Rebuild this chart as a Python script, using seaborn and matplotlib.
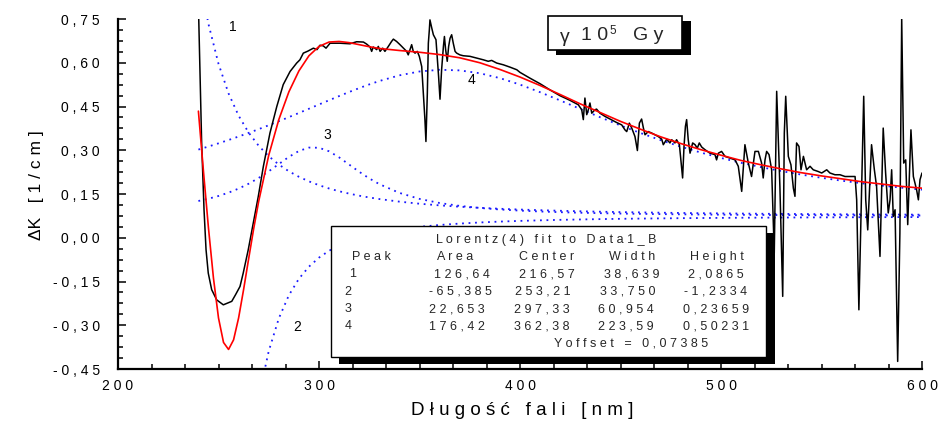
import numpy as np
import pandas as pd
import matplotlib
matplotlib.use("Agg")
import matplotlib.pyplot as plt
import seaborn as sns
from matplotlib.ticker import FixedLocator, AutoMinorLocator
from matplotlib.patches import Rectangle

# ---------------- data ----------------
curve_x = [240, 245, 250, 255, 260, 265, 270, 275, 280, 285, 290, 295, 300, 305,
           310, 315, 320, 325, 330, 340, 350, 360, 370, 380, 390, 400, 410, 420,
           430, 440, 450, 460, 470, 480, 490, 500, 510, 520, 530, 540, 550, 560,
           570, 580, 590, 600]

peak1_y = [0.9184, 0.7330, 0.5963, 0.4948, 0.4186, 0.3603, 0.3152, 0.2795, 0.2510,
           0.2279, 0.2090, 0.1933, 0.1801, 0.1689, 0.1594, 0.1513, 0.1442, 0.1381,
           0.1327, 0.1238, 0.1167, 0.1110, 0.1064, 0.1026, 0.0994, 0.0967, 0.0945,
           0.0925, 0.0908, 0.0893, 0.0880, 0.0869, 0.0859, 0.0850, 0.0842, 0.0835,
           0.0829, 0.0823, 0.0818, 0.0813, 0.0808, 0.0804, 0.0801, 0.0797, 0.0794,
           0.0791]

peak2_y = [-0.6910, -0.9235, -1.1165, -1.1459, -0.9877, -0.7550, -0.5460, -0.3886,
           -0.2766, -0.1973, -0.1406, -0.0991, -0.0682, -0.0446, -0.0263, -0.0118,
           -0.0002, 0.0093, 0.0170, 0.0289, 0.0375, 0.0438, 0.0486, 0.0524, 0.0554,
           0.0578, 0.0597, 0.0614, 0.0627, 0.0639, 0.0649, 0.0657, 0.0664, 0.0671,
           0.0676, 0.0681, 0.0686, 0.0689, 0.0693, 0.0696, 0.0699, 0.0701, 0.0704,
           0.0706, 0.0708, 0.0709]

peak3_y = [0.1260, 0.1338, 0.1432, 0.1546, 0.1685, 0.1852, 0.2050, 0.2278, 0.2526,
           0.2772, 0.2975, 0.3091, 0.3086, 0.2964, 0.2756, 0.2509, 0.2262, 0.2035,
           0.1839, 0.1538, 0.1332, 0.1191, 0.1092, 0.1022, 0.0969, 0.0930, 0.0900,
           0.0876, 0.0857, 0.0842, 0.0829, 0.0819, 0.0810, 0.0803, 0.0796, 0.0791,
           0.0786, 0.0782, 0.0778, 0.0775, 0.0772, 0.0770, 0.0768, 0.0766, 0.0764,
           0.0762]

peak4_y = [0.3023, 0.3128, 0.3237, 0.3351, 0.3470, 0.3595, 0.3723, 0.3857, 0.3994,
           0.4135, 0.4278, 0.4423, 0.4569, 0.4714, 0.4857, 0.4997, 0.5130, 0.5257,
           0.5373, 0.5568, 0.5701, 0.5759, 0.5738, 0.5640, 0.5473, 0.5251, 0.4990,
           0.4707, 0.4416, 0.4128, 0.3850, 0.3589, 0.3346, 0.3123, 0.2920, 0.2736,
           0.2569, 0.2420, 0.2285, 0.2164, 0.2055, 0.1956, 0.1868, 0.1787, 0.1715,
           0.1649]

fit_x = [240, 242.5, 245, 247.5, 250, 252.5, 255, 257.5, 260, 262.5, 265, 267.5,
         270, 275, 280, 285, 290, 295, 300, 305, 310, 315, 320, 325, 330, 340, 350,
         360, 370, 380, 390, 400, 410, 420, 430, 440, 450, 460, 470, 480, 490, 500,
         510, 520, 530, 540, 550, 560, 570, 580, 590, 600]

fit_y = [0.434, 0.229, 0.034, -0.139, -0.275, -0.359, -0.383, -0.350, -0.275, -0.177,
         -0.072, 0.031, 0.125, 0.283, 0.405, 0.500, 0.572, 0.624, 0.656, 0.671, 0.673,
         0.669, 0.662, 0.655, 0.649, 0.642, 0.636, 0.628, 0.617, 0.600, 0.577, 0.551,
         0.522, 0.491, 0.459, 0.429, 0.399, 0.372, 0.346, 0.323, 0.302, 0.283, 0.265,
         0.250, 0.236, 0.223, 0.212, 0.202, 0.192, 0.184, 0.176, 0.170]

data_x = [240.0, 241.6, 242.8, 243.8, 244.9, 246.6, 249.1, 252.4, 256.6, 258.5, 260.7,
          262.3, 264.8, 267.3, 269.8, 272.3, 275.6, 279.0, 282.2, 285.6, 288.9, 290.5,
          292.2, 294.5, 297.2, 299.0, 300.5, 302.1, 303.5,
          305.5, 310.4, 315.4, 318.7, 322.1, 323.7, 325.4, 326.2, 327.0, 328.7, 329.5,
          330.4, 331.7, 332.8, 334.5, 336.1, 337.0, 338.6, 340.3, 342.0, 343.6, 344.4,
          345.3, 346.1, 346.9, 347.8, 348.9, 349.9, 351.1, 351.9, 352.7, 353.2, 353.9,
          354.4, 354.9, 355.2, 356.1, 356.9, 358.2, 358.9, 359.5, 360.2, 361.0, 361.9,
          362.4, 363.0, 363.8, 364.5, 365.2, 366.0, 366.8, 367.7, 368.5, 370.1, 371.8,
          375.1, 378.4, 381.8, 384.2, 385.9, 386.7, 388.4, 391.7, 395.0, 398.4,
          400.0, 405.0, 410.0, 414.9, 419.9, 424.9, 429.0, 430.7, 431.5, 432.3, 433.2,
          434.0, 434.8, 435.7, 437.3, 438.1, 439.8, 442.3, 444.8, 448.1, 450.6, 452.2,
          453.1, 454.4, 455.6, 457.2, 458.4, 459.4, 460.5, 461.4, 462.2, 463.8, 465.5,
          467.2, 468.8, 470.5, 471.3, 473.0, 474.6, 475.5, 477.1, 477.9, 479.3, 480.4,
          480.9, 481.6, 482.3, 482.9, 483.7, 484.6, 485.9, 487.1, 488.2, 489.2, 490.4,
          492.0, 494.5, 497.0, 497.8,
          498.7, 500.3, 502.0, 504.5, 507.0, 508.6, 510.3, 511.9, 513.6, 515.2, 516.9,
          518.6, 520.2, 521.0, 521.9, 522.7, 523.9, 525.2, 526.5, 527.7, 529.3, 530.7,
          531.5, 532.2, 533.5, 534.8, 536.0, 536.8, 537.6, 538.8, 539.8, 541.0, 542.6,
          544.3, 545.9, 548.4, 550.1, 552.6, 554.2, 556.7, 559.2, 561.7, 564.2, 566.7,
          567.5, 568.6, 570.0, 571.0, 572.0, 573.0, 574.9, 576.3, 577.4, 579.1, 580.7,
          581.9, 583.2, 584.1, 584.9, 585.7, 586.6, 587.9, 589.0, 589.9, 590.9, 591.9,
          592.9, 594.5, 595.7, 597.3, 598.2, 599.0, 600.0]

data_y = [0.800, 0.330, 0.096, -0.041, -0.121, -0.178, -0.213, -0.230, -0.218, -0.195,
          -0.167, -0.121, -0.041, 0.050, 0.142, 0.244, 0.359, 0.450, 0.525, 0.570, 0.599,
          0.610, 0.633, 0.640, 0.650, 0.645, 0.660, 0.658, 0.650,
          0.667, 0.667, 0.665, 0.672, 0.671, 0.664, 0.654, 0.639, 0.654, 0.645, 0.656,
          0.639, 0.650, 0.639, 0.656, 0.673, 0.681, 0.673, 0.662, 0.650, 0.639, 0.627,
          0.645, 0.662, 0.639, 0.633, 0.639, 0.622, 0.587, 0.496, 0.405, 0.330, 0.496,
          0.667, 0.713, 0.747, 0.719, 0.696, 0.679, 0.610, 0.553, 0.475, 0.576, 0.656,
          0.690, 0.645, 0.605, 0.656, 0.684, 0.696, 0.667, 0.639, 0.633, 0.627, 0.624,
          0.622, 0.616, 0.610, 0.605, 0.608, 0.605, 0.599, 0.593, 0.585, 0.576,
          0.567, 0.547, 0.528, 0.507, 0.487, 0.471, 0.456, 0.439, 0.405, 0.479, 0.422,
          0.439, 0.462, 0.427, 0.439, 0.441, 0.427, 0.416, 0.407, 0.395, 0.387, 0.370,
          0.364, 0.393, 0.376, 0.347, 0.299, 0.393, 0.407, 0.376, 0.353, 0.364, 0.359,
          0.353, 0.347, 0.338, 0.319, 0.338, 0.325, 0.336, 0.325, 0.336, 0.319, 0.239,
          0.205, 0.313, 0.382, 0.405, 0.336, 0.290, 0.325, 0.319, 0.307, 0.325, 0.311,
          0.302, 0.290, 0.285, 0.267,
          0.290, 0.296, 0.279, 0.273, 0.267, 0.245, 0.159, 0.319, 0.256, 0.210, 0.296,
          0.296, 0.256, 0.205, 0.267, 0.296, 0.285, 0.233, -0.053, 0.502, 0.176, -0.201,
          0.359, 0.485, 0.279, 0.250, 0.170, 0.142, 0.325, 0.313, 0.233, 0.279, 0.233,
          0.245, 0.233, 0.227, 0.222, 0.233, 0.222, 0.216, 0.216, 0.210, 0.210, 0.210,
          0.130, -0.247, 0.187, 0.485, 0.130, 0.027, 0.319, 0.233, 0.176, -0.064, 0.376,
          0.222, 0.085, 0.130, 0.233, 0.073, 0.096, -0.424, 0.016, 0.753, 0.256, 0.267,
          0.045, 0.370, 0.210, 0.165, 0.130, 0.199, 0.222]

xticks = [200, 300, 400, 500, 600]
xtick_labels = ["200", "300", "400", "500", "600"]
yticks = [-0.45, -0.30, -0.15, 0.00, 0.15, 0.30, 0.45, 0.60, 0.75]
ytick_labels = ["-0,45", "-0,30", "-0,15", "0,00", "0,15", "0,30", "0,45", "0,60", "0,75"]

peak_names = ["1", "2", "3", "4"]
table_title = "Lorentz(4) fit to Data1_B"
table_header = ["Peak", "Area", "Center", "Width", "Height"]
area_vals = ["126,64", "-65,385", "22,653", "176,42"]
center_vals = ["216,57", "253,21", "297,33", "362,38"]
width_vals = ["38,639", "33,750", "60,954", "223,59"]
height_vals = ["2,0865", "-1,2334", "0,23659", "0,50231"]
offset_text = "Yoffset = 0,07385"

# ---------------- styling ----------------
sns.set_theme(style="ticks")
plt.rcParams['font.family'] = ['Liberation Sans', 'DejaVu Sans']

W, H = 940, 423


def fx(px):
    return px / W


def fy(py):
    return 1 - py / H


def sp(s):
    return " ".join(s)


fig = plt.figure(figsize=(W / 100, H / 100), dpi=100)
fig.patch.set_facecolor("white")
ax = fig.add_axes([fx(118), fy(369), (922 - 118) / W, (369 - 19) / H])
ax.set_facecolor("white")

blue = "#1a1aff"
dot = (0, (1, 2.6))
for yy in (peak1_y, peak2_y, peak3_y, peak4_y):
    sns.lineplot(x=curve_x, y=yy, ax=ax, color=blue, linewidth=1.3,
                 linestyle=dot, estimator=None, sort=False)

df_data = pd.DataFrame({"x": data_x, "y": data_y})
sns.lineplot(data=df_data, x="x", y="y", ax=ax, color="black", linewidth=1.1,
             estimator=None, sort=False)
sns.lineplot(x=fit_x, y=fit_y, ax=ax, color="#ff0000", linewidth=1.2,
             estimator=None, sort=False)

ax.set_xlim(200, 600)
ax.set_ylim(-0.45, 0.75)
ax.set_xlabel("")
ax.set_ylabel("")

for s in ("top", "right"):
    ax.spines[s].set_visible(False)
for s in ("left", "bottom"):
    ax.spines[s].set_linewidth(1.6)
    ax.spines[s].set_color("black")

ax.xaxis.set_major_locator(FixedLocator(xticks))
ax.set_xticklabels([sp(t) for t in xtick_labels])
ax.yaxis.set_major_locator(FixedLocator(yticks))
ax.set_yticklabels([sp(t) for t in ytick_labels])
ax.xaxis.set_minor_locator(AutoMinorLocator(6))
ax.yaxis.set_minor_locator(AutoMinorLocator(4))
ax.tick_params(which="both", direction="in", color="black", width=1.1,
               top=False, right=False)
ax.tick_params(which="major", length=6)
ax.tick_params(which="minor", length=3.5)
ax.tick_params(axis="y", which="major", pad=13, labelsize=10, labelcolor="black")
ax.tick_params(axis="x", which="major", pad=7, labelsize=10, labelcolor="black")

# axis titles
fig.text(fx(522), fy(410), sp("Długość fali [nm]"),
         ha="center", va="center", fontsize=13.5, color="black")
fig.text(fx(37), fy(185), "ΔK   " + sp("[1/cm]"), rotation=90,
         ha="center", va="center", fontsize=12.5, color="black")

# peak labels
for name, (px, py) in zip(peak_names, [(233, 27), (297, 327), (327, 135), (471, 80)]):
    fig.text(fx(px), fy(py), name, ha="center", va="center", fontsize=10, color="black")

# title box with shadow
fig.patches.append(Rectangle((fx(556), fy(55)), (691 - 556) / W, (55 - 21) / H,
                             transform=fig.transFigure, facecolor="black",
                             edgecolor="none", zorder=5))
fig.patches.append(Rectangle((fx(548), fy(50)), (682 - 548) / W, (50 - 16) / H,
                             transform=fig.transFigure, facecolor="white",
                             edgecolor="black", linewidth=1.2, zorder=6))
fig.text(fx(565), fy(37), "γ", ha="center", va="center", fontsize=14, zorder=7)
fig.text(fx(581), fy(40), "1 0", ha="left", va="baseline", fontsize=14, zorder=7)
fig.text(fx(609), fy(34), "5", ha="left", va="baseline", fontsize=8.5, zorder=7)
fig.text(fx(633), fy(40), "G y", ha="left", va="baseline", fontsize=14, zorder=7)

# fit table with shadow
fig.patches.append(Rectangle((fx(339), fy(364)), (775 - 339) / W, (364 - 233) / H,
                             transform=fig.transFigure, facecolor="black",
                             edgecolor="none", zorder=5))
fig.patches.append(Rectangle((fx(331), fy(357)), (766 - 331) / W, (357 - 226) / H,
                             transform=fig.transFigure, facecolor="white",
                             edgecolor="black", linewidth=1.0, zorder=6))

tfs = 9
fig.text(fx(546), fy(240), sp(table_title), ha="center", va="center", fontsize=tfs, zorder=7)
for label, cx in zip(table_header, [371, 455, 547, 632, 717]):
    fig.text(fx(cx), fy(257), sp(label), ha="center", va="center", fontsize=tfs, zorder=7)
row_y = [274, 292, 309, 326]
peak_cx = [353, 348, 348, 348]
area_cx = [462, 460, 457, 457]
center_cx = [547, 543, 542, 542]
width_cx = [632, 628, 626, 626]
height_cx = [716, 716, 716, 716]
for i in range(4):
    ry = fy(row_y[i])
    fig.text(fx(peak_cx[i]), ry, peak_names[i], ha="center", va="center", fontsize=tfs, zorder=7)
    fig.text(fx(area_cx[i]), ry, sp(area_vals[i]), ha="center", va="center", fontsize=tfs, zorder=7)
    fig.text(fx(center_cx[i]), ry, sp(center_vals[i]), ha="center", va="center", fontsize=tfs, zorder=7)
    fig.text(fx(width_cx[i]), ry, sp(width_vals[i]), ha="center", va="center", fontsize=tfs, zorder=7)
    fig.text(fx(height_cx[i]), ry, sp(height_vals[i]), ha="center", va="center", fontsize=tfs, zorder=7)
fig.text(fx(631), fy(344), sp(offset_text), ha="center", va="center", fontsize=tfs, zorder=7)

fig.savefig("out.png", dpi=100, facecolor="white")
